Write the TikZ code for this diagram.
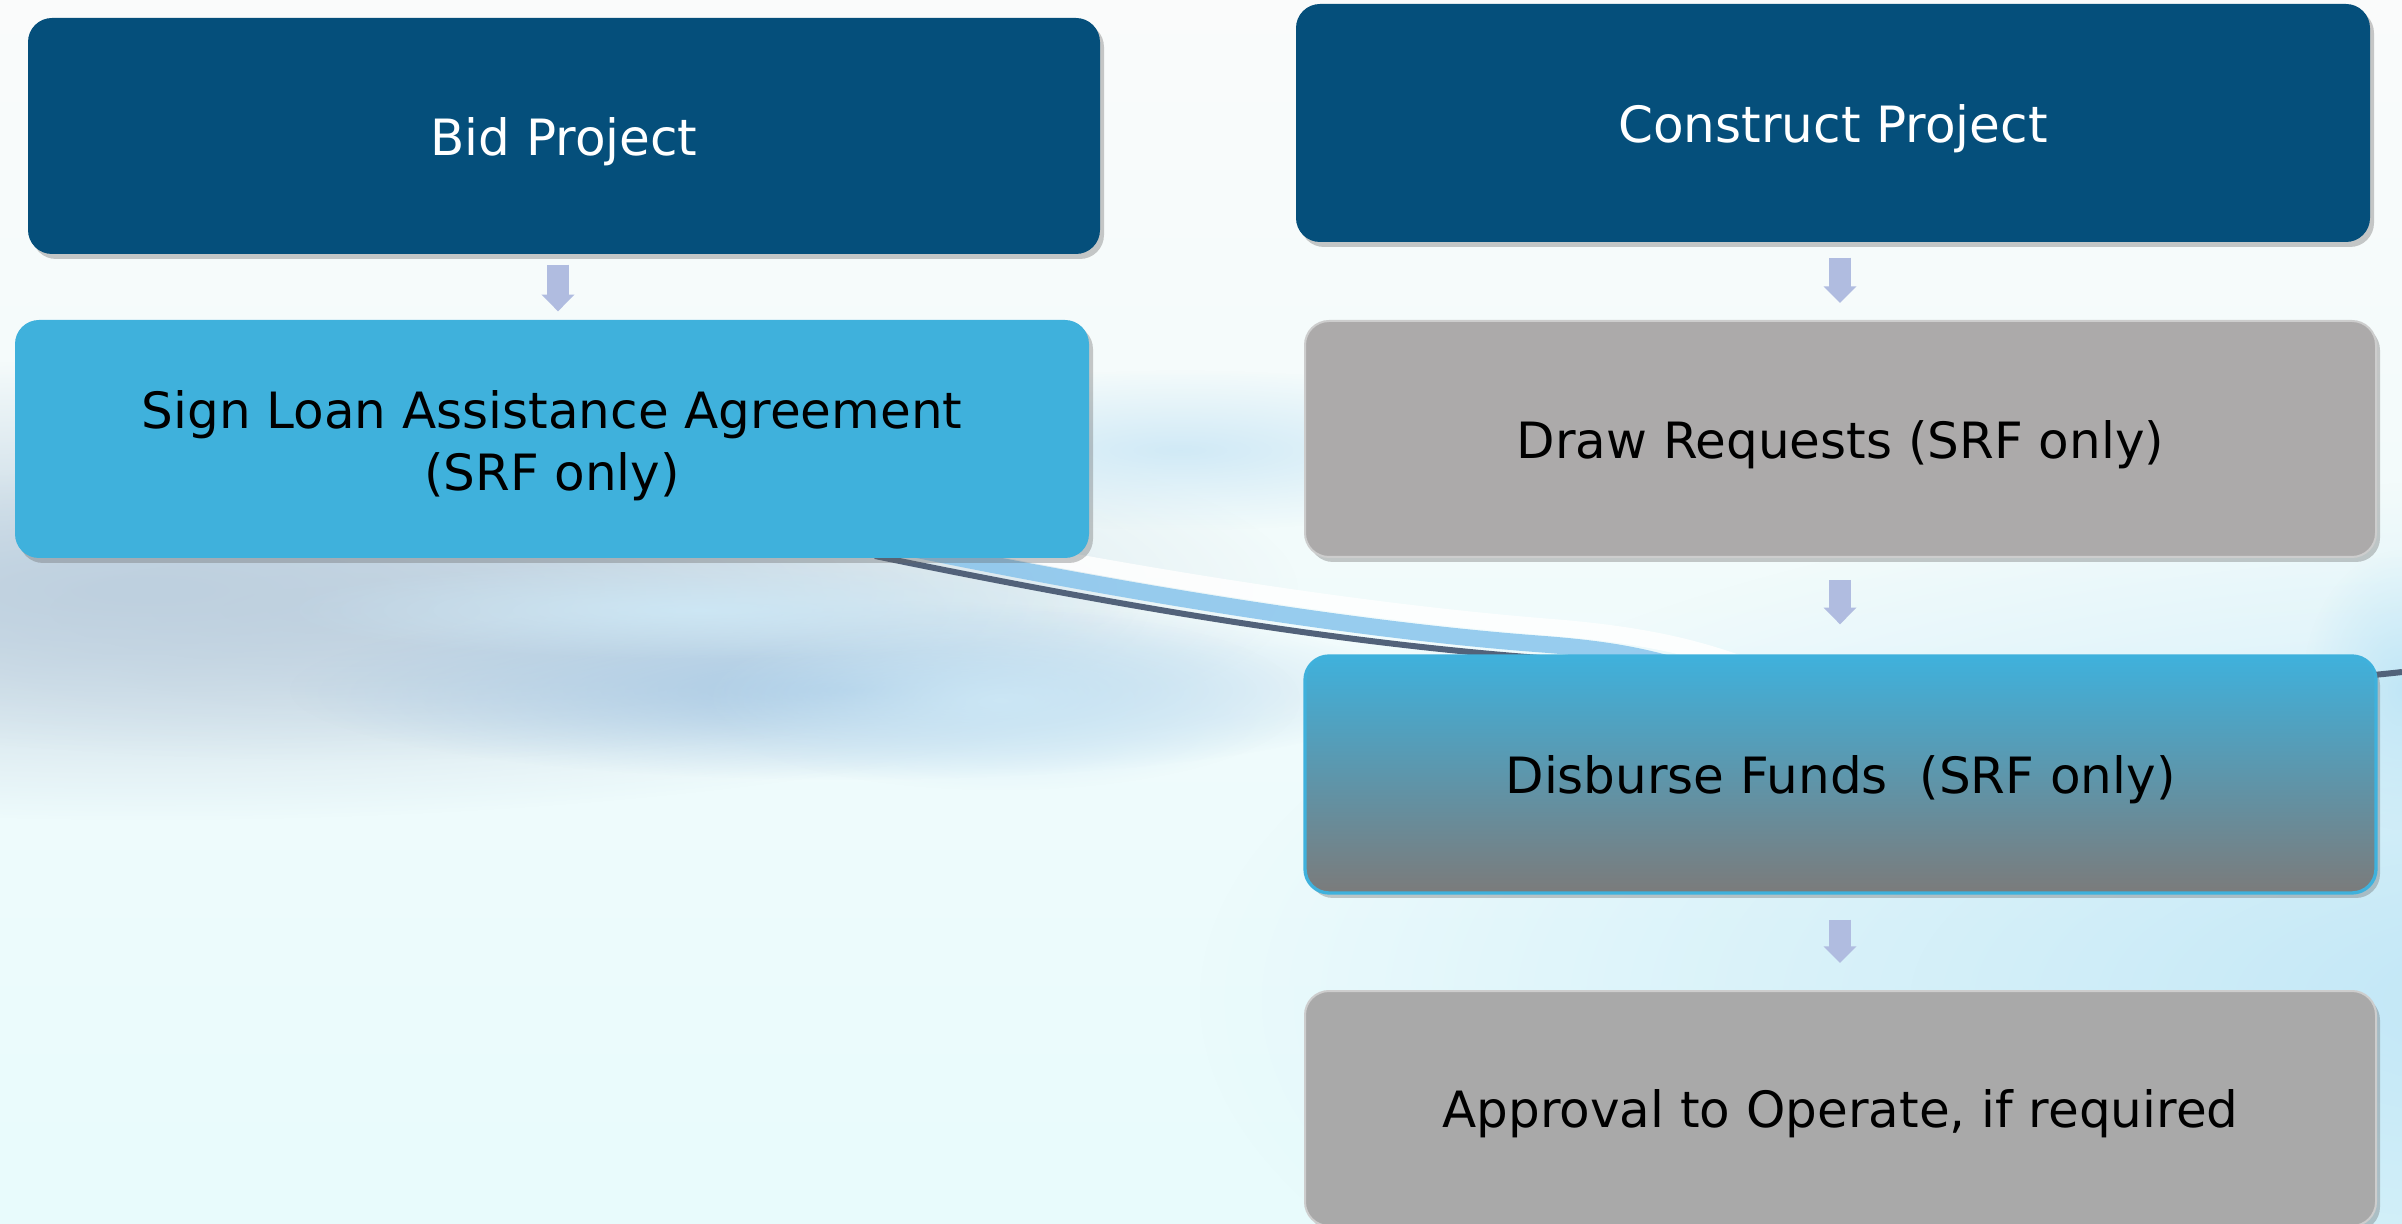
\documentclass[tikz,border=0pt]{standalone}
\usepackage{fontspec}
\setmainfont{DejaVu Sans}
\usetikzlibrary{arrows.meta,shadows,fadings}

\definecolor{darkblue}{RGB}{5,79,123}
\definecolor{lightblue}{RGB}{63,177,220}
\definecolor{boxgray}{RGB}{172,170,170}
\definecolor{boxgrayb}{RGB}{169,169,169}
\definecolor{grayedge}{RGB}{205,205,205}
\definecolor{arrowblue}{RGB}{176,188,224}
\definecolor{bgtop}{RGB}{250,251,251}
\definecolor{bgbottom}{RGB}{232,251,252}
\definecolor{bgright}{RGB}{190,229,246}
\definecolor{swgray}{RGB}{190,208,223}
\definecolor{swblue}{RGB}{164,199,228}
\definecolor{swlight}{RGB}{205,232,246}
\definecolor{ribbon}{RGB}{136,196,236}
\definecolor{darkline}{RGB}{82,98,122}
\definecolor{midgrad}{RGB}{96,158,184}
\definecolor{botgrad}{RGB}{123,123,123}

\tikzfading[name=softblob, inner color=transparent!0, outer color=transparent!100]

\tikzset{
  boxbase/.style={rectangle, rounded corners=7.2pt, inner sep=0pt, align=center,
    font=\fontsize{15pt}{18.6pt}\selectfont,
    execute at begin node={\rule{0pt}{0.97em}},
    drop shadow={shadow xshift=1.2pt, shadow yshift=-1.5pt, opacity=0.35, fill=black!60}},
  darkbox/.style={boxbase, fill=darkblue, text=white},
  bluebox/.style={boxbase, fill=lightblue, text=black},
  graybox/.style={boxbase, fill=boxgray, draw=grayedge, line width=0.6pt, text=black},
  gradbox/.style={boxbase, top color=lightblue, middle color=midgrad, bottom color=botgrad,
    draw=lightblue, line width=1pt, text=black},
  flowarrow/.style={draw=arrowblue, line width=6.6pt, -{Triangle[width=9.6pt,length=5pt]}},
  blob/.style={path fading=softblob}
}

\begin{document}
\begin{tikzpicture}[x=0.3pt,y=-0.3pt]
\useasboundingbox (0,0) rectangle (2402,1224);
\clip (0,0) rectangle (2402,1224);

% background
\shade[top color=bgtop, bottom color=bgbottom] (0,0) rectangle (2402,1224);
\fill[bgright, blob, opacity=0.95] (2550,1000) ellipse [x radius=1350, y radius=520];
\fill[swgray, blob] (150,590) ellipse [x radius=1150, y radius=230];
\fill[swgray, blob, opacity=0.8] (350,610) ellipse [x radius=800, y radius=150];
\fill[swblue, blob, opacity=0.9] (850,690) ellipse [x radius=560, y radius=90];
\fill[swlight, blob, opacity=0.9] (700,610) ellipse [x radius=420, y radius=50];
\fill[swlight, blob, opacity=0.9] (1180,450) ellipse [x radius=380, y radius=80];
\fill[swlight, blob, opacity=0.9] (1000,700) ellipse [x radius=300, y radius=90];
\fill[bgright, blob, opacity=0.9] (2402,690) ellipse [x radius=100, y radius=140];

% swoosh
\draw[white, line width=5pt, opacity=0.85] (900,528) .. controls (1100,570) and (1350,612) .. (1560,628) .. controls (1650,636) and (1720,650) .. (1800,690);
\draw[ribbon, line width=5pt, opacity=0.85] (885,543) .. controls (1100,588) and (1350,630) .. (1540,644) .. controls (1620,650) and (1680,660) .. (1760,700);
\draw[darkline, line width=1.8pt] (875,556) .. controls (1100,602) and (1350,648) .. (1600,662) .. controls (2000,682) and (2250,690) .. (2402,672);

% boxes
\node[darkbox, minimum width=321.6pt, minimum height=70.8pt] (bid) at (564,136) {Bid Project};
\node[bluebox, minimum width=322.2pt, minimum height=71.4pt] (sign) at (552,439) {\rule{0pt}{1.04em}Sign Loan Assistance Agreement\\(SRF only)};
\node[darkbox, minimum width=322.2pt, minimum height=71.4pt] (construct) at (1833,123) {Construct Project};
\node[graybox, minimum width=321.3pt, minimum height=70.8pt] (draw) at (1840.5,439) {Draw Requests (SRF only)};
\node[gradbox, minimum width=321.3pt, minimum height=71.1pt] (disburse) at (1840.5,774.5) {Disburse Funds\ \ (SRF only)};
\node[graybox, fill=boxgrayb, minimum width=321.3pt, minimum height=70.5pt] (approval) at (1840.5,1108.5) {Approval to Operate, if required};

% arrows
\coordinate (la) at (558,0);
\coordinate (ra) at (1840,0);
\draw[flowarrow, shorten <=3pt, shorten >=2.4pt] (bid.south -| la) -- (sign.north -| la);
\draw[flowarrow, shorten <=4.5pt, shorten >=5.1pt] (construct.south -| ra) -- (draw.north -| ra);
\draw[flowarrow, shorten <=6.6pt, shorten >=9pt] (draw.south -| ra) -- (disburse.north -| ra);
\draw[flowarrow, shorten <=7.5pt, shorten >=8.1pt] (disburse.south -| ra) -- (approval.north -| ra);
\end{tikzpicture}
\end{document}
